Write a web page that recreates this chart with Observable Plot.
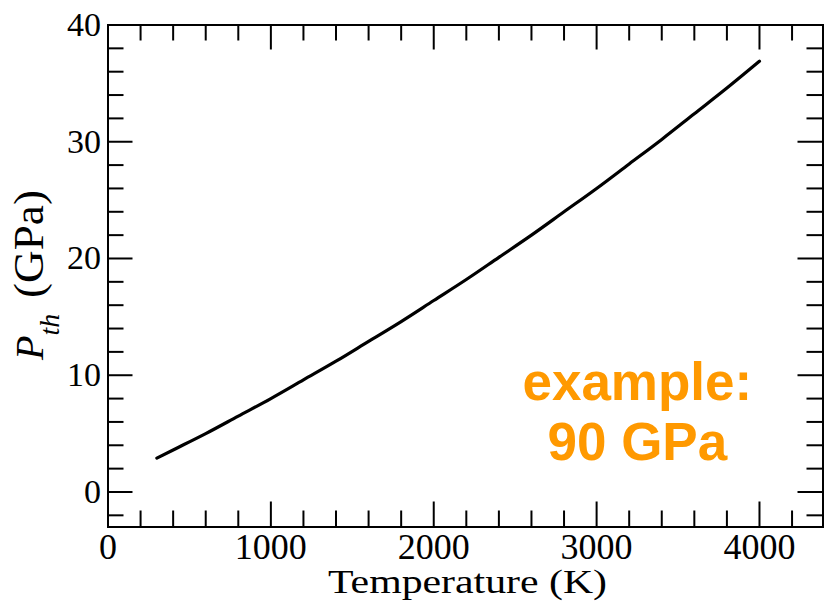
<!DOCTYPE html>
<html>
<head>
<meta charset="utf-8">
<script src="https://cdn.jsdelivr.net/npm/d3@7"></script>
<script src="https://cdn.jsdelivr.net/npm/@observablehq/plot@0.6"></script>
<style>
  html, body { margin: 0; padding: 0; background: #fff; }
  #chart { width: 824px; height: 601px; overflow: hidden; }
</style>
</head>
<body>
<div id="chart"></div>
<script>
// Thermal pressure P_th against temperature
const temperatureK = [300, 400, 600, 800, 1000, 1200, 1400, 1600, 1800, 2000,
  2200, 2400, 2600, 2800, 3000, 3200, 3400, 3600, 3800, 4000];
const thermalPressureGPa = [2.9, 3.6, 5.0, 6.5, 8.0, 9.6, 11.2, 12.9, 14.6, 16.4,
  18.2, 20.1, 22.0, 24.0, 26.0, 28.1, 30.2, 32.4, 34.6, 36.9];

// Axis ticks
const xMajorTicks = [0, 1000, 2000, 3000, 4000];
const xMinorTicks = [200, 400, 600, 800, 1200, 1400, 1600, 1800, 2200, 2400, 2600, 2800,
  3200, 3400, 3600, 3800, 4200];
const yMajorTicks = [0, 10, 20, 30, 40];
const yMinorTicks = [-2, 2, 4, 6, 8, 12, 14, 16, 18, 22, 24, 26, 28, 32, 34, 36, 38];

// Texts
const xLabel = "Temperature (K)";
const yLabelSymbol = "P";
const yLabelSub = "th";
const yLabelUnit = "(GPa)";
const noteLines = ["example:", "90 GPa"];

// Layout
const W = 824, H = 601;
const mL = 107.5, mR = 1.5, mT = 24.5, mB = 74.5;
const frameW = W - mL - mR, frameH = H - mT - mB;
const majorLen = 25, minorLen = 16;
const serif = "'Liberation Serif', 'Times New Roman', Times, serif";
const sans = "'Liberation Sans', Arial, Helvetica, sans-serif";
const tick = { stroke: "#000", strokeWidth: 2 };

const points = temperatureK.map((t, i) => ({ t, p: thermalPressureGPa[i] }));

const chart = Plot.plot({
  width: W, height: H,
  marginLeft: mL, marginRight: mR, marginTop: mT, marginBottom: mB,
  style: { fontFamily: serif, color: "#000", background: "#fff" },
  x: { domain: [0, 4390] },
  y: { domain: [-3, 40] },
  marks: [
    // inward ticks on all four sides
    Plot.ruleX(xMajorTicks, { x: d => d, insetTop: frameH - majorLen, ...tick }),
    Plot.ruleX(xMinorTicks, { x: d => d, insetTop: frameH - minorLen, ...tick }),
    Plot.ruleX(xMajorTicks, { x: d => d, insetBottom: frameH - majorLen, ...tick }),
    Plot.ruleX(xMinorTicks, { x: d => d, insetBottom: frameH - minorLen, ...tick }),
    Plot.ruleY(yMajorTicks, { y: d => d, insetRight: frameW - majorLen, ...tick }),
    Plot.ruleY(yMinorTicks, { y: d => d, insetRight: frameW - minorLen, ...tick }),
    Plot.ruleY(yMajorTicks, { y: d => d, insetLeft: frameW - majorLen, ...tick }),
    Plot.ruleY(yMinorTicks, { y: d => d, insetLeft: frameW - minorLen, ...tick }),
    Plot.line(points, { x: "t", y: "p", stroke: "#000", strokeWidth: 3.2, curve: "monotone-x" }),
    Plot.frame({ stroke: "#000", strokeWidth: 2 }),
    Plot.axisX(xMajorTicks, { anchor: "bottom", tickSize: 0, tickPadding: 6, fontSize: 36,
      tickFormat: d => String(d), label: null }),
    Plot.axisY(yMajorTicks, { anchor: "left", tickSize: 0, tickPadding: 7, fontSize: 34,
      tickFormat: d => String(d), label: null }),
    Plot.text([xLabel], { frameAnchor: "bottom", dx: 2, dy: 66, text: d => d, fontSize: 34,
      lineAnchor: "bottom", className: "x-title" }),
    Plot.text([noteLines[0]], { x: 3250, y: 7.85, text: d => d, lineAnchor: "bottom",
      fontFamily: sans, fontWeight: "bold", fontSize: 53, fill: "#ff9900" }),
    Plot.text([noteLines[1]], { x: 3250, y: 2.72, text: d => d, lineAnchor: "bottom",
      fontFamily: sans, fontWeight: "bold", fontSize: 53, fill: "#ff9900" })
  ]
});

const svg = d3.select(chart);

// stretch the x title to its full printed width
svg.select(".x-title text").attr("textLength", 279).attr("lengthAdjust", "spacingAndGlyphs");

// y-axis title with italic symbol and subscript
const yTitle = svg.append("g").attr("transform", "translate(43,360) rotate(-90)")
  .attr("font-family", serif).attr("fill", "#000").attr("text-anchor", "start");
const sym = yTitle.append("text").attr("x", 0).attr("y", 0);
sym.append("tspan").attr("font-style", "italic").attr("font-size", 40).text(yLabelSymbol);
sym.append("tspan").attr("font-style", "italic").attr("font-size", 28).attr("dy", 16).text(yLabelSub);
yTitle.append("text").attr("x", 62).attr("y", 0).attr("font-size", 42)
  .attr("textLength", 108).attr("lengthAdjust", "spacingAndGlyphs").text(yLabelUnit);

document.getElementById("chart").appendChild(chart);
</script>
</body>
</html>
